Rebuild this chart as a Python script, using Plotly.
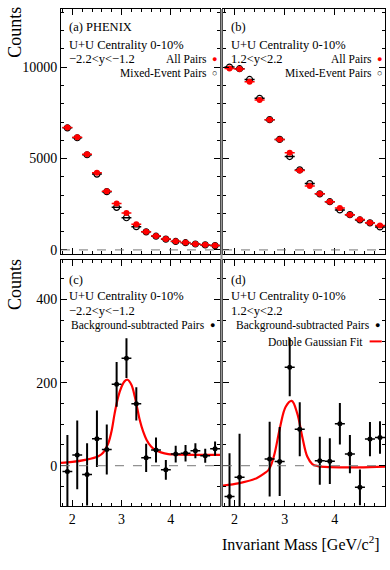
import plotly.graph_objects as go

FONT = "Liberation Serif, Times New Roman, serif"

# invariant mass bin centres [GeV/c^2], bins 0.2 wide
mass = [1.9, 2.1, 2.3, 2.5, 2.7, 2.9, 3.1, 3.3, 3.5, 3.7, 3.9, 4.1, 4.3, 4.5, 4.7, 4.9]

# (a) -2.2<y<-1.2
all_a = [6700, 6160, 5230, 4220, 3205, 2535, 2020, 1400, 1000, 760, 600, 470, 400, 330, 280, 240]
mixed_a = [6680, 6140, 5210, 4150, 3190, 2330, 1760, 1270, 990, 750, 590, 465, 395, 325, 275, 235]

# (b) 1.2<y<2.2
all_b = [9930, 9900, 9200, 8210, 7130, 6050, 5320, 4350, 3500, 3070, 2640, 2290, 1930, 1660, 1480, 1340]
mixed_b = [10010, 9920, 9330, 8300, 7130, 6050, 5110, 4380, 3630, 3070, 2640, 2190, 1930, 1640, 1480, 1260]

# (c) background-subtracted, -2.2<y<-1.2
sub_c = [-14, 26, -21, 65, 39, 196, 259, 149, 19, 38, -10, 28, 30, 36, 24, 41]
sub_c_err = [88, 83, 75, 68, 60, 54, 48, 40, 34, 30, 24, 20, 20, 18, 17, 17]

# (d) background-subtracted, 1.2<y<2.2 (bins inside the plotted range)
mass_d = [1.9, 2.1, 2.7, 2.9, 3.1, 3.3, 3.7, 3.9, 4.1, 4.3, 4.5, 4.7, 4.9]
sub_d = [-74, -28, 16, 10, 237, 88, 12, 11, 101, 28, -52, 64, 68]
sub_d_err = [104, 105, 90, 83, 70, 65, 58, 55, 50, 46, 43, 41, 39]

# double Gaussian fit curves
fit_c_x = [1.77, 2.0, 2.26, 2.53, 2.63, 2.73, 2.8, 2.86, 2.93, 3.0, 3.06, 3.12, 3.2,
           3.27, 3.37, 3.44, 3.51, 3.6, 3.68, 3.8, 3.95, 4.08, 4.5, 5.0]
fit_c_y = [7, 9, 14, 23, 32, 54, 85, 126, 165, 190, 203, 207, 195,
           166, 110, 82, 62, 46, 38, 32, 28, 27, 26, 26]
fit_d_x = [1.77, 2.1, 2.44, 2.6, 2.68, 2.73, 2.8, 2.91, 3.02, 3.14, 3.25, 3.35,
           3.45, 3.55, 3.66, 3.8, 4.47, 5.0]
fit_d_y = [-48, -42, -30, -18, -10, 2, 30, 94, 142, 156, 126, 70,
           22, 4, -1, -3, -4, -2]

X_RANGE = [1.77, 5.0]
XL, XR = [0.1564, 0.5641], [0.5718, 0.9872]
YT, YB = [0.5509, 0.9842], [0.1053, 0.5404]

fig = go.Figure()

pair_x = dict(type="constant", value=0.1, width=0, thickness=1.5)


def pairs(axis, mixed, total):
    xa, ya = ("x", "y") if axis == 1 else (f"x{axis}", f"y{axis}")
    fig.add_trace(go.Scatter(
        x=mass, y=mixed, xaxis=xa, yaxis=ya, mode="markers",
        marker=dict(symbol="circle-open", size=6, color="black", line=dict(width=1.2)),
        error_x=dict(pair_x, color="black"), showlegend=False))
    fig.add_trace(go.Scatter(
        x=mass, y=total, xaxis=xa, yaxis=ya, mode="markers",
        marker=dict(symbol="circle", size=6, color="#ff0000"),
        error_x=dict(pair_x, color="#ff0000"), showlegend=False))


def subtracted(axis, x, y, err, fx, fy):
    xa, ya = f"x{axis}", f"y{axis}"
    fig.add_trace(go.Scatter(
        x=fx, y=fy, xaxis=xa, yaxis=ya, mode="lines", line_shape="spline",
        line=dict(color="#ff0000", width=2.2), showlegend=False))
    fig.add_trace(go.Scatter(
        x=x, y=y, xaxis=xa, yaxis=ya, mode="markers",
        marker=dict(symbol="circle", size=5, color="black"),
        error_x=dict(type="constant", value=0.1, width=0, thickness=1.5, color="black"),
        error_y=dict(type="data", array=err, width=0, thickness=2, color="black"),
        showlegend=False))


pairs(1, mixed_a, all_a)
pairs(2, mixed_b, all_b)
subtracted(3, mass, sub_c, sub_c_err, fit_c_x, fit_c_y)
subtracted(4, mass_d, sub_d, sub_d_err, fit_d_x, fit_d_y)

tick_font = dict(family=FONT, size=14, color="black")


def xaxis(domain, anchor, labels):
    return dict(domain=domain, anchor=anchor, range=X_RANGE, tickvals=[2, 3, 4],
                ticks="inside", ticklen=6, tickwidth=1, tickcolor="black",
                minor=dict(dtick=0.2, tick0=0, ticks="inside", ticklen=3, tickcolor="black"),
                showline=True, linecolor="black", linewidth=1, mirror="allticks",
                showgrid=False, zeroline=False, showticklabels=labels, tickfont=tick_font)


def yaxis(domain, anchor, rng, vals, minor, labels):
    return dict(domain=domain, anchor=anchor, range=rng, tickvals=vals, tickformat="d",
                ticks="inside", ticklen=6, tickwidth=1, tickcolor="black",
                minor=dict(dtick=minor, tick0=0, ticks="inside", ticklen=3, tickcolor="black"),
                showline=True, linecolor="black", linewidth=1, mirror="allticks",
                showgrid=False, zeroline=False, showticklabels=labels, tickfont=tick_font)


top_rng, bot_rng = [-234, 13190], [-98, 495]
fig.update_layout(
    width=390, height=570, margin=dict(l=0, r=0, t=0, b=0),
    paper_bgcolor="white", plot_bgcolor="white",
    font=dict(family=FONT, size=12, color="black"),
    xaxis=xaxis(XL, "y", False), yaxis=yaxis(YT, "x", top_rng, [0, 5000, 10000], 1000, True),
    xaxis2=xaxis(XR, "y2", False), yaxis2=yaxis(YT, "x2", top_rng, [0, 5000, 10000], 1000, False),
    xaxis3=xaxis(XL, "y3", True), yaxis3=yaxis(YB, "x3", bot_rng, [0, 200, 400], 50, True),
    xaxis4=xaxis(XR, "y4", True), yaxis4=yaxis(YB, "x4", bot_rng, [0, 200, 400], 50, False),
)

# dashed zero lines
for i in ["", "2", "3", "4"]:
    fig.add_shape(type="line", xref=f"x{i} domain", yref=f"y{i}", x0=0, x1=1, y0=0, y1=0,
                  line=dict(color="#777777", width=1, dash="dash"))

# gray separator between the columns
fig.add_shape(type="line", xref="paper", yref="paper", x0=0.5680, x1=0.5680,
              y0=YB[0], y1=YT[1], line=dict(color="#999999", width=2))


def note(axis, x, y, text, anchor="left", color="black", size=12.5):
    fig.add_annotation(xref=f"x{axis} domain", yref=f"y{axis} domain", x=x, y=y,
                       text=text, showarrow=False, xanchor=anchor, yanchor="middle",
                       font=dict(family=FONT, size=size, color=color))


rap_a, rap_b = "\u22122.2<y<\u22121.2", "1.2<y<2.2"
for ax, tag, rap in [("", "(a) PHENIX", rap_a), ("2", "(b)", rap_b)]:
    note(ax, 0.04, 0.925, tag)
    note(ax, 0.035, 0.852, "U+U Centrality 0-10%")
    note(ax, 0.035, 0.796, rap)
    note(ax, 0.933, 0.794, "All Pairs", "right", size=11.5)
    note(ax, 0.963, 0.796, "\u25cf", "center", "#ff0000", 9)
    note(ax, 0.933, 0.737, "Mixed-Event Pairs", "right", size=11.5)
    note(ax, 0.963, 0.739, "\u25cb", "center", "black", 9)

for ax, tag, rap in [("3", "(c)", rap_a), ("4", "(d)", rap_b)]:
    note(ax, 0.04, 0.921, tag)
    note(ax, 0.035, 0.853, "U+U Centrality 0-10%")
    note(ax, 0.035, 0.793, rap)
    note(ax, 0.918, 0.734, "Background-subtracted Pairs", "right", size=11.5)
    note(ax, 0.955, 0.736, "\u25cf", "center", "black", 9)

note("4", 0.875, 0.667, "Double Gaussian Fit", "right", size=11.5)
fig.add_shape(type="line", xref="x4 domain", yref="y4 domain", x0=0.905, x1=0.98,
              y0=0.670, y1=0.670, line=dict(color="#ff0000", width=2))

# axis titles
for yc in [1 - 33 / 570, 1 - 287 / 570]:
    fig.add_annotation(xref="paper", yref="paper", x=15 / 390, y=yc, text="Counts",
                       textangle=-90, showarrow=False, xanchor="center", yanchor="middle",
                       font=dict(family=FONT, size=18, color="black"))
fig.add_annotation(xref="paper", yref="paper", x=382 / 390, y=1 - 547 / 570,
                   text="Invariant Mass [GeV/c<sup>2</sup>]", showarrow=False,
                   xanchor="right", yanchor="middle", font=dict(family=FONT, size=16, color="black"))

# drop the default page margin so the 390x570 figure fills the window
fig.write_html("out.html", config={"displayModeBar": False},
               post_script="document.body.style.margin='0';")
